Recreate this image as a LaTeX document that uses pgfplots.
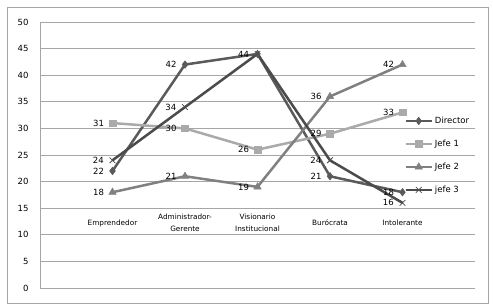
\documentclass[border=0pt]{standalone}
\usepackage{pgfplots}
\pgfplotsset{compat=1.18}
\usepackage{fontspec}
\setmainfont{DejaVu Sans}
\definecolor{cdir}{RGB}{90,90,90}
\definecolor{cj1}{RGB}{170,170,170}
\definecolor{cj2}{RGB}{128,128,128}
\definecolor{cj3}{RGB}{75,75,75}
\begin{document}
\begin{tikzpicture}[x=1pt,y=1pt]
\path[use as bounding box] (-40,-19) rectangle (453,288);
\draw[gray!70, line width=0.8pt] (-33,-15) rectangle (448,281);
\begin{axis}[
  at={(0,0)}, anchor=south west,
  scale only axis, width=435pt, height=266pt,
  xmin=-1, xmax=5, ymin=0, ymax=50,
  ytick={0,5,...,50},
  xtick={0,1,2,3,4},
  xticklabels={Emprendedor,{Administrador-\\Gerente},{Visionario\\Institucional},Burócrata,Intolerante},
  xticklabel style={anchor=center, yshift=65pt, align=center, font=\fontsize{7.3}{11.5}\selectfont},
  yticklabel style={font=\fontsize{8.5}{10}\selectfont, xshift=-7pt},
  /pgf/number format/assume math mode=true,
  major tick length=0pt,
  ymajorgrids,
  grid style={gray!70, line width=0.6pt},
  axis x line=bottom, axis y line=left,
  axis line style={gray!70, line width=0.6pt, -},
  line width=2.5pt,
  every node near coord/.append style={anchor=east, xshift=-5pt, font=\fontsize{8.5}{10}\selectfont, text=black},
  nodes near coords, point meta=explicit symbolic,
  legend style={at={(0.835,0.655)}, anchor=north west, draw=none, fill=none, font=\fontsize{8.5}{10}\selectfont, row sep=11pt, inner sep=0pt, legend cell align=left},
  legend image code/.code={\draw[#1, mark repeat=2, mark phase=2] plot coordinates {(0pt,0pt) (13pt,0pt) (26pt,0pt)};},
]
\addplot[color=cdir, mark=diamond*, mark size=3.8pt, mark options={solid, line width=0.5pt}] coordinates {(0,22) [22] (1,42) [42] (2,44) [44] (3,21) [21] (4,18) [18]};
\addlegendentry{Director}
\addplot[color=cj1, mark=square*, mark size=3.3pt, mark options={solid, line width=0.5pt}] coordinates {(0,31) [31] (1,30) [30] (2,26) [26] (3,29) [29] (4,33) [33]};
\addlegendentry{Jefe 1}
\addplot[color=cj2, mark=triangle*, mark size=4.2pt, mark options={solid, line width=0.5pt}] coordinates {(0,18) [18] (1,21) [21] (2,19) [19] (3,36) [36] (4,42) [42]};
\addlegendentry{Jefe 2}
\addplot[color=cj3, mark=x, mark size=4pt, mark options={solid, line width=0.8pt}] coordinates {(0,24) [24] (1,34) [34] (2,44) [] (3,24) [24] (4,16) [16]};
\addlegendentry{jefe 3}
\end{axis}
\end{tikzpicture}
\end{document}
